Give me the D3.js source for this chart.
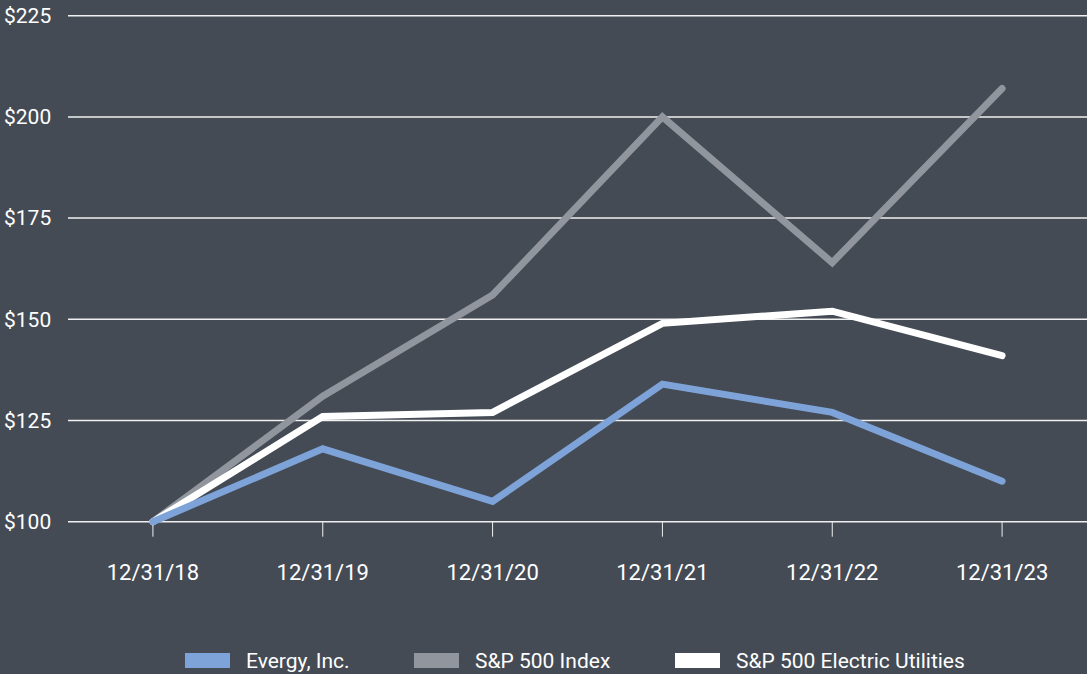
<!DOCTYPE html>
<html>
<head>
<meta charset="utf-8">
<script src="https://cdn.jsdelivr.net/npm/d3@7"></script>
<style>
  html, body { margin: 0; padding: 0; background: #444b55; }
  svg { display: block; font-family: Roboto, "Open Sans", sans-serif; }
</style>
</head>
<body>
<svg width="1087" height="674"></svg>
<script>
var years = ["12/31/18", "12/31/19", "12/31/20", "12/31/21", "12/31/22", "12/31/23"];
var evergy = [100, 118, 105, 134, 127, 110];
var sp500 = [100, 131, 156, 200, 164, 207];
var utilities = [100, 126, 127, 149, 152, 141];
var yTicks = [100, 125, 150, 175, 200, 225];

var series = [
  { name: "Evergy, Inc.", values: evergy, color: "#7ea3d8" },
  { name: "S&P 500 Index", values: sp500, color: "#91969e" },
  { name: "S&P 500 Electric Utilities", values: utilities, color: "#ffffff" }
];

var svg = d3.select("svg");

var x = d3.scalePoint()
    .domain(years)
    .range([68, 1087])
    .padding(0.5);

var y = d3.scaleLinear()
    .domain([100, 225])
    .range([521.7, 15.7]);

// grid lines + y labels
svg.append("g")
  .selectAll("line")
  .data(yTicks)
  .enter().append("line")
    .attr("x1", 68)
    .attr("x2", 1087)
    .attr("y1", function(d) { return y(d); })
    .attr("y2", function(d) { return y(d); })
    .style("stroke", "#f0f0f0")
    .style("stroke-width", 1.5);

svg.append("g")
  .selectAll("text")
  .data(yTicks)
  .enter().append("text")
    .attr("x", 4)
    .attr("y", function(d) { return y(d); })
    .attr("dy", "0.35em")
    .style("fill", "#ffffff")
    .style("font-size", "21px")
    .text(function(d) { return "$" + d; });

// x axis ticks
var xAxis = svg.append("g");
xAxis.selectAll("line")
  .data(years)
  .enter().append("line")
    .attr("x1", function(d) { return x(d); })
    .attr("x2", function(d) { return x(d); })
    .attr("y1", y(100))
    .attr("y2", y(100) + 15)
    .style("stroke", "#f0f0f0")
    .style("stroke-width", 1);

xAxis.selectAll("text")
  .data(years)
  .enter().append("text")
    .attr("x", function(d) { return x(d); })
    .attr("y", 579.5)
    .attr("text-anchor", "middle")
    .style("fill", "#ffffff")
    .style("font-size", "22px")
    .text(function(d) { return d; });

// lines
var line = d3.line()
    .x(function(d, i) { return x(years[i]); })
    .y(function(d) { return y(d); });

svg.append("g")
  .selectAll("path")
  .data([series[1], series[2], series[0]])
  .enter().append("path")
    .attr("d", function(d) { return line(d.values); })
    .style("fill", "none")
    .style("stroke", function(d) { return d.color; })
    .style("stroke-width", 7)
    .style("stroke-linejoin", "miter")
    .style("stroke-linecap", "round");

// legend
var legendX = [185, 414, 675];
var legend = svg.append("g")
  .selectAll("g")
  .data(series)
  .enter().append("g")
    .attr("transform", function(d, i) { return "translate(" + legendX[i] + ",653)"; });

legend.append("rect")
    .attr("width", 45)
    .attr("height", 15)
    .style("fill", function(d) { return d.color; });

legend.append("text")
    .attr("x", 61)
    .attr("y", 7.5)
    .attr("dy", "0.35em")
    .style("fill", "#ffffff")
    .style("font-size", "21px")
    .text(function(d) { return d.name; });
</script>
</body>
</html>
